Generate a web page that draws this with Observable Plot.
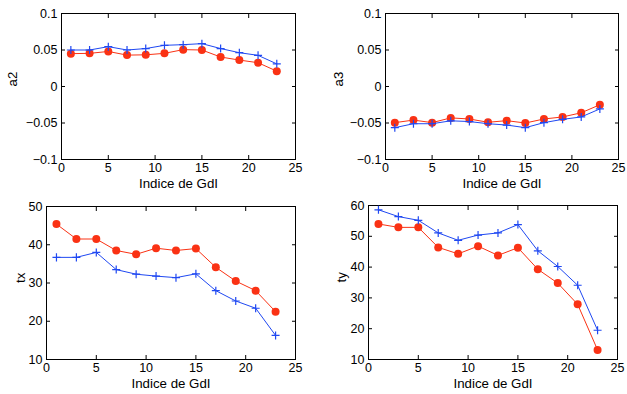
<!DOCTYPE html>
<html><head><meta charset="utf-8">
<script src="https://cdn.jsdelivr.net/npm/d3@7"></script>
<script src="https://cdn.jsdelivr.net/npm/@observablehq/plot@0.6"></script>
<style>
body{margin:0;background:#fff;}
#c{position:relative;width:627px;height:394px;font-family:"Liberation Sans",Arial,sans-serif;}
#c svg{position:absolute;}
</style></head><body><div id="c"></div>
<script>
const idx = [1,3,5,7,9,11,13,15,17,19,21,23];
const a2Blue = [0.050,0.050,0.0546,0.050,0.052,0.0564,0.0573,0.0587,0.052,0.0463,0.0427,0.031];
const a2Red  = [0.045,0.0454,0.048,0.043,0.0434,0.0454,0.0505,0.050,0.0404,0.0362,0.0326,0.021];
const a3Blue = [-0.0564,-0.051,-0.051,-0.047,-0.048,-0.051,-0.0528,-0.0564,-0.0495,-0.045,-0.0417,-0.0307];
const a3Red  = [-0.0495,-0.046,-0.0495,-0.043,-0.0445,-0.049,-0.0468,-0.050,-0.0445,-0.0417,-0.036,-0.025];
const txBlue = [36.7,36.7,38.0,33.5,32.3,31.8,31.4,32.4,28.0,25.3,23.4,16.3];
const txRed  = [45.4,41.5,41.5,38.5,37.5,39.1,38.5,39.0,34.1,30.5,28.0,22.5];
const tyBlue = [58.6,56.4,55.2,51.1,48.7,50.4,51.1,53.8,45.3,40.2,34.1,19.5];
const tyRed  = [54.0,52.9,52.9,46.4,44.3,46.8,43.8,46.3,39.3,34.8,27.9,13.1];
const xTicks = [0,5,10,15,20,25];
const aTicks = [-0.1,-0.05,0,0.05,0.1];
const txTicks = [10,20,30,40,50];
const tyTicks = [10,20,30,40,50,60];
const xLabel = "Indice de GdI";
const RED = "#fa3214", BLUE = "#1f48f2";

function panel({blue, red, yDomain, yTicks, yLabel, yLabelDx, left, top, width, height, ml, mr, mt, mb}) {
  const rows = s => idx.map((x,i) => ({x, y: s[i]}));
  const fmtY = d => String(d).replace("-", "\u2212");
  const p = Plot.plot({
    width, height, marginLeft: ml, marginRight: mr, marginTop: mt, marginBottom: mb,
    style: {fontFamily: "'Liberation Sans', Arial, sans-serif", fontSize: "12.5px", color: "#000", background: "transparent"},
    x: {domain: [0,25]},
    y: {domain: yDomain},
    marks: [
      Plot.frame({stroke: "#000", strokeWidth: 1}),
      Plot.axisX(xTicks, {anchor: "bottom", tickSize: 0, tickPadding: 4, label: null, fontSize: 12.5}),
      Plot.axisX(xTicks, {anchor: "bottom", tickSize: -4, text: null, label: null}),
      Plot.axisX(xTicks, {anchor: "top", tickSize: -4, text: null, label: null}),
      Plot.axisY(yTicks, {anchor: "left", tickSize: 0, tickPadding: 4, tickFormat: fmtY, label: null, fontSize: 12.5}),
      Plot.axisY(yTicks, {anchor: "left", tickSize: -4, text: null, label: null}),
      Plot.axisY(yTicks, {anchor: "right", tickSize: -4, text: null, label: null}),
      Plot.text([xLabel], {frameAnchor: "bottom", dy: 24, lineAnchor: "middle", fontSize: 13.3, fill: "#000"}),
      Plot.text([yLabel], {frameAnchor: "left", dx: yLabelDx, rotate: -90, lineAnchor: "middle", fontSize: 13.3, fill: "#000"}),
      Plot.line(rows(red), {x: "x", y: "y", stroke: RED, strokeWidth: 1}),
      Plot.dot(rows(red), {x: "x", y: "y", fill: RED, r: 4, stroke: "none"}),
      Plot.line(rows(blue), {x: "x", y: "y", stroke: BLUE, strokeWidth: 1}),
      Plot.dot(rows(blue), {x: "x", y: "y", symbol: "plus", stroke: BLUE, strokeWidth: 1.2, r: 2.7})
    ]
  });
  p.style.left = left + "px";
  p.style.top = top + "px";
  document.getElementById("c").appendChild(p);
}

panel({blue: a2Blue, red: a2Red, yDomain: [-0.1,0.1], yTicks: aTicks, yLabel: "a2", yLabelDx: -49,
  left: 0, top: 0, width: 313, height: 195, ml: 61, mr: 18, mt: 13, mb: 36});
panel({blue: a3Blue, red: a3Red, yDomain: [-0.1,0.1], yTicks: aTicks, yLabel: "a3", yLabelDx: -47,
  left: 313, top: 0, width: 314, height: 195, ml: 72, mr: 9, mt: 13, mb: 36});
panel({blue: txBlue, red: txRed, yDomain: [10,50], yTicks: txTicks, yLabel: "tx", yLabelDx: -26,
  left: 0, top: 195, width: 313, height: 199, ml: 46, mr: 18, mt: 11, mb: 35});
panel({blue: tyBlue, red: tyRed, yDomain: [10,60], yTicks: tyTicks, yLabel: "ty", yLabelDx: -27,
  left: 313, top: 195, width: 314, height: 199, ml: 55, mr: 10, mt: 10, mb: 35});
</script></body></html>
